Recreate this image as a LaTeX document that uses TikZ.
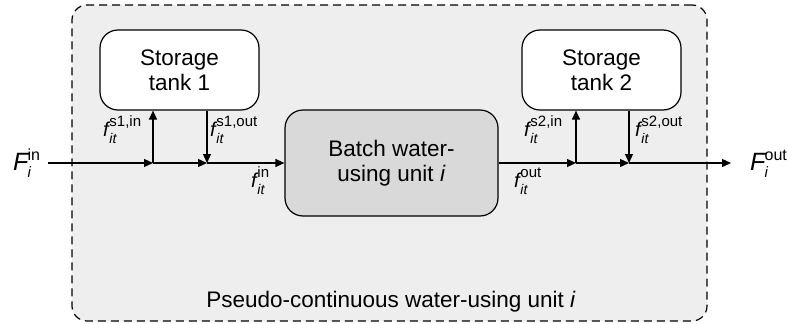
\documentclass[tikz,border=0pt]{standalone}
\usepackage{fontspec}
\setmainfont{Liberation Sans}
\usetikzlibrary{arrows.meta}
\newcommand\flab[3]{{\fontsize{20}{20}\selectfont\textit{#1}}\kern-1pt\rlap{\raisebox{-7pt}{\fontsize{14}{14}\selectfont\textit{#2}}}\raisebox{9.5pt}{\fontsize{15}{15}\selectfont #3}}
\newcommand\Flab[3]{{\fontsize{25}{25}\selectfont\textit{#1}}\kern-2pt\rlap{\raisebox{-7pt}{\fontsize{15}{15}\selectfont\textit{#2}}}\raisebox{10pt}{\fontsize{16}{16}\selectfont #3}}
\definecolor{outerfill}{HTML}{EEEEEE}
\definecolor{batchfill}{HTML}{D9D9D9}
\tikzset{
  boxtext/.style={font=\fontsize{22.5}{25}\selectfont, align=center},
  tank/.style={draw, line width=1.2pt, rounded corners=18pt, fill=white,
    minimum width=159pt, minimum height=80pt, boxtext},
  unitbox/.style={draw, line width=1.2pt, rounded corners=18pt, fill=batchfill,
    minimum width=213pt, minimum height=106pt, boxtext},
  outerbox/.style={draw, line width=1.2pt, dash pattern=on 8pt off 5pt,
    rounded corners=15pt, fill=outerfill, minimum width=635pt, minimum height=316pt},
  flow/.style={line width=1.2pt, -{Triangle[length=9pt,width=8pt]}},
  lab/.style={anchor=base west, inner sep=0pt},
}
\begin{document}
\begin{tikzpicture}[x=1pt,y=-1pt]
\useasboundingbox (0,0) rectangle (788,324);
\node[outerbox] (outer) at (389.5,163) {};
\node[tank] (t1) at (179.5,70) {Storage\\tank 1};
\node[tank] (t2) at (601.5,70) {Storage\\tank 2};
\node[unitbox] (batch) at (391.5,163) {Batch water-\\using unit \textit{i}};
\node[font=\fontsize{22.5}{26}\selectfont] (plabel) at (391,302) {Pseudo-continuous water-using unit \textit{i}};

\coordinate (start) at (48,163);
\coordinate (j1) at (153,163);
\coordinate (j2) at (207,163);
\coordinate (j3) at (576,163);
\coordinate (j4) at (629,163);
\coordinate (end) at (731,163);

\draw[flow] (start) -- (j1);
\draw[flow] (j1) -- (j2);
\draw[flow] (j2) -- (batch.west);
\draw[flow] (j1) -- (j1 |- t1.south);
\draw[flow] (j2 |- t1.south) -- (j2);
\draw[flow] (batch.east) -- (j3);
\draw[flow] (j3) -- (j4);
\draw[flow] (j4) -- (end);
\draw[flow] (j3) -- (j3 |- t2.south);
\draw[flow] (j4 |- t2.south) -- (j4);

\node[lab] (Fin) at (13,170) {\Flab{F}{i}{in}};
\node[lab] (Fout) at (750,170) {\Flab{F}{i}{out}};
\node[lab] (fs1in) at (103,136) {\flab{f}{it}{s1,in}};
\node[lab] (fs1out) at (210,136) {\flab{f}{it}{s1,out}};
\node[lab] (fin) at (251,187) {\flab{f}{it}{in}};
\node[lab] (fout) at (514,187) {\flab{f}{it}{out}};
\node[lab] (fs2in) at (524,136) {\flab{f}{it}{s2,in}};
\node[lab] (fs2out) at (635,136) {\flab{f}{it}{s2,out}};
\end{tikzpicture}
\end{document}
